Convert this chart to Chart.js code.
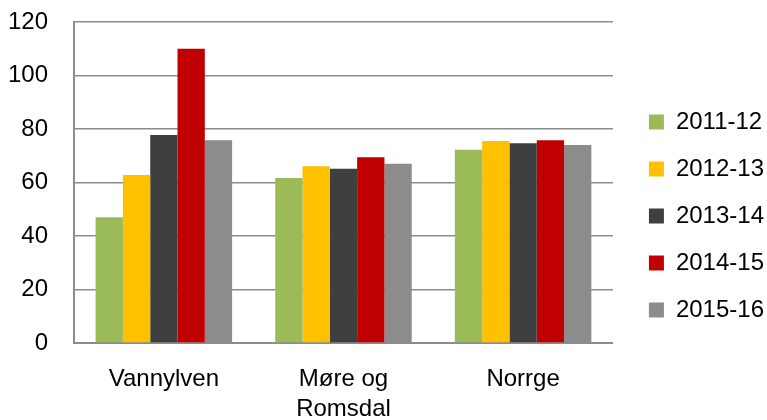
<!DOCTYPE html>
<html>
<head>
<meta charset="utf-8">
<script src="https://cdn.jsdelivr.net/npm/chart.js@4/dist/chart.umd.min.js"></script>
<style>
  html, body { margin: 0; padding: 0; background: #fff; }
  #wrap { width: 767px; height: 420px; }
</style>
</head>
<body>
<div id="wrap"><canvas id="chart" width="767" height="420"></canvas></div>
<script>
const categories = ['Vannylven', ['Møre og', 'Romsdal'], 'Norrge'];
const seasons = ['2011-12', '2012-13', '2013-14', '2014-15', '2015-16'];
const s2011 = [47, 61.7, 72.2];
const s2012 = [62.8, 66.1, 75.5];
const s2013 = [77.8, 65.1, 74.7];
const s2014 = [110, 69.4, 75.8];
const s2015 = [75.8, 67, 74];
const colors = ['#9bbb59', '#ffc000', '#3f3f3f', '#c00000', '#8c8c8c'];
const yTicks = [0, 20, 40, 60, 80, 100, 120];

const seriesValues = [s2011, s2012, s2013, s2014, s2015];

// nudge the legend block to where Excel put it
const legendShift = {
    id: 'legendShift',
    afterLayout(chart) {
        const lg = chart.legend;
        lg.left += 13; lg.right += 13;
        lg.top -= 5; lg.bottom -= 5;
    }
};

function renderChart() {
    const ctx = document.getElementById('chart').getContext('2d');
    new Chart(ctx, {
        type: 'bar',
        data: {
            labels: categories,
            datasets: seasons.map((s, i) => ({
                label: s,
                data: seriesValues[i],
                backgroundColor: colors[i],
                borderWidth: 0,
                categoryPercentage: 0.76,
                barPercentage: 1
            }))
        },
        plugins: [legendShift],
        options: {
            responsive: false,
            animation: false,
            layout: { padding: { left: -18, right: 6, top: 22, bottom: 0 } },
            plugins: {
                tooltip: { enabled: false },
                legend: {
                    position: 'right',
                    labels: {
                        boxWidth: 15,
                        boxHeight: 15,
                        padding: 23,
                        color: '#000',
                        font: { family: 'Liberation Sans', size: 24 }
                    }
                }
            },
            scales: {
                x: {
                    grid: { display: false, drawTicks: false },
                    border: { color: '#8c8c8c', width: 2 },
                    afterFit: s => { s.height = 77; s.paddingLeft = 0; s.paddingRight = 0; },
                    ticks: {
                        color: '#000',
                        padding: 22,
                        font: { family: 'Liberation Sans', size: 24, lineHeight: 1.22 }
                    }
                },
                y: {
                    min: 0,
                    max: 120,
                    afterBuildTicks: axis => { axis.ticks = yTicks.map(v => ({ value: v })); },
                    afterFit: s => { s.paddingTop = 0; s.paddingBottom = 0; },
                    grid: { color: '#8c8c8c', lineWidth: 1.5, drawTicks: false },
                    border: { color: '#8c8c8c', width: 2 },
                    ticks: {
                        color: '#000',
                        padding: 26,
                        font: { family: 'Liberation Sans', size: 24 }
                    }
                }
            }
        }
    });
}

document.addEventListener('DOMContentLoaded', renderChart);
</script>
</body>
</html>
